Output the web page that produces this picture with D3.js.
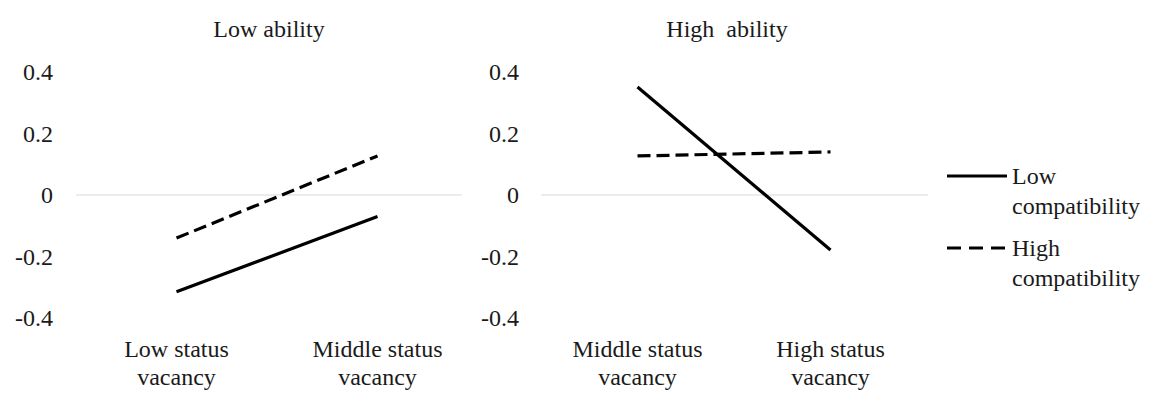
<!DOCTYPE html>
<html>
<head>
<meta charset="utf-8">
<script src="https://cdn.jsdelivr.net/npm/d3@7"></script>
<style>
  body { margin: 0; background: #fff; }
</style>
</head>
<body>
<svg id="chart" width="1163" height="394"></svg>
<script>
// panel titles and categories
const panelTitles = ["Low ability", "High  ability"];
const lowAbilityCats = [["Low status", "vacancy"], ["Middle status", "vacancy"]];
const highAbilityCats = [["Middle status", "vacancy"], ["High status", "vacancy"]];

// series values
const lowAbilityLowCompat = [-0.315, -0.07];
const lowAbilityHighCompat = [-0.14, 0.127];
const highAbilityLowCompat = [0.351, -0.179];
const highAbilityHighCompat = [0.127, 0.14];

const yTicks = [-0.4, -0.2, 0, 0.2, 0.4];
const seriesNames = [["Low", "compatibility"], ["High", "compatibility"]];
const dashes = [null, "13,6"];

// letter-spacing makes the renderer drop to a sans fallback, so keep plain text
const FONT = "Liberation Serif";
const fontSize = 24;

const svg = d3.select("#chart");

const y = d3.scaleLinear().domain([-0.4, 0.4]).range([318, 72]);

const panels = [
  { title: panelTitles[0], cats: lowAbilityCats, series: [lowAbilityLowCompat, lowAbilityHighCompat],
    x0: 76, x1: 478, gridEnd: 462, labelX: 53, titleX: 269 },
  { title: panelTitles[1], cats: highAbilityCats, series: [highAbilityLowCompat, highAbilityHighCompat],
    x0: 541, x1: 927, gridEnd: 928, labelX: 519, titleX: 727 }
];

function txt(sel) {
  return sel.attr("font-family", FONT)
    .attr("font-size", fontSize)
    .attr("fill", "#1a1a1a")
    .style("white-space", "pre");
}

panels.forEach(p => {
  const g = svg.append("g");
  const x = d3.scaleBand().domain(d3.range(p.cats.length)).range([p.x0, p.x1]);

  // title
  g.append("text")
    .call(txt)
    .attr("x", p.titleX).attr("y", 37)
    .attr("text-anchor", "middle")
    .text(p.title);

  // y tick labels
  g.selectAll(".ytick")
    .data(yTicks)
    .enter().append("text")
    .call(txt)
    .attr("x", p.labelX)
    .attr("y", d => y(d))
    .attr("dy", 8)
    .attr("text-anchor", "end")
    .text(d => d === 0 ? "0" : d3.format(".1f")(d).replace("\u2212", "-"));

  // zero line
  g.append("line")
    .attr("x1", p.x0).attr("x2", p.gridEnd)
    .attr("y1", y(0)).attr("y2", y(0))
    .style("stroke", "#d9d9d9").style("stroke-width", 1);

  // category labels
  p.cats.forEach((c, i) => {
    const cx = x(i) + x.bandwidth() / 2;
    c.forEach((line, j) => {
      g.append("text")
        .call(txt)
        .attr("x", cx).attr("y", 357 + j * 28)
        .attr("text-anchor", "middle")
        .text(line);
    });
  });

  // series lines
  const lineGen = d3.line()
    .x((d, i) => x(i) + x.bandwidth() / 2)
    .y(d => y(d));

  p.series.forEach((s, k) => {
    g.append("path")
      .datum(s)
      .attr("d", lineGen)
      .style("fill", "none")
      .style("stroke", "#000")
      .style("stroke-width", 3.2)
      .style("stroke-dasharray", dashes[k]);
  });
});

// legend
const legend = svg.append("g");
const legendY = [176, 248];
seriesNames.forEach((name, k) => {
  legend.append("line")
    .attr("x1", 947).attr("x2", 1007)
    .attr("y1", legendY[k]).attr("y2", legendY[k])
    .style("stroke", "#000").style("stroke-width", 3.2)
    .style("stroke-dasharray", k ? "14,8" : null);
  name.forEach((line, j) => {
    legend.append("text")
      .call(txt)
      .attr("x", 1012).attr("y", legendY[k] + 8 + j * 30)
      .text(line);
  });
});
</script>
</body>
</html>
